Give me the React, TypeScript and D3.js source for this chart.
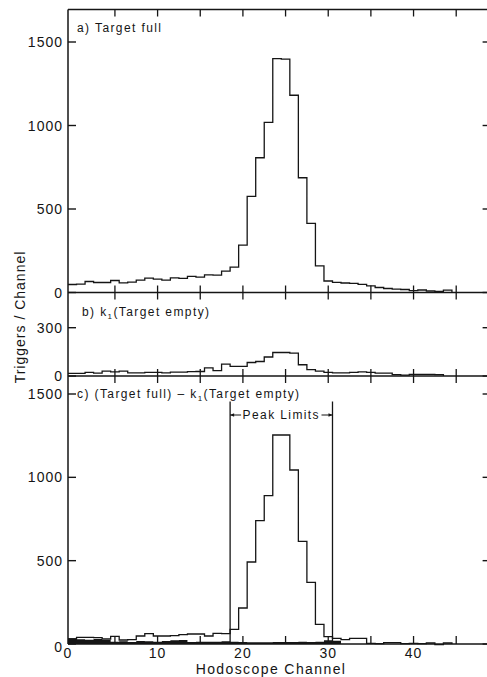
import React from "react";
import * as d3 from "d3";

// Hodoscope channel counts, one value per channel starting at channel 0
const fullCounts = [
  48, 50, 66, 60, 60, 72, 58, 62, 74, 86, 80, 74, 88, 84, 96, 92, 106, 104, 128, 152,
  284, 576, 807, 1019, 1400, 1398, 1181, 687, 414, 159, 69, 61, 57, 55, 49, 40, 30, 24,
  20, 18, 11, 15, 9, 6, 14,
];
const emptyCounts = [
  16, 16, 22, 18, 30, 26, 30, 20, 20, 22, 22, 20, 24, 24, 27, 28, 50, 34, 74, 60, 60, 84,
  90, 118, 146, 146, 142, 70, 40, 30, 22, 20, 20, 22, 26, 22, 18, 18, 8, 6, 10, 10, 10, 9,
];
const diffCounts = [
  30, 40, 40, 38, 30, 46, 24, 26, 48, 62, 48, 48, 50, 56, 60, 60, 48, 64, 62, 88, 216, 492,
  740, 890, 1254, 1254, 1044, 616, 370, 118, 44, 34, 26, 34, 34, 4, 2, 8, 8, 2, 4, 2, 6, -4, 6,
];
const residualCounts = [
  34, 28, 26, 30, 24, 14, 16, 12, 18, 16, 14, 18, 22, 24, 12, 14, 14, 14, 16, 14, 12, 10,
  10, 10, 12, 12, 12, 14, 12, 14, 22, 20,
];
const peakLimits = [18.5, 30.5];

const xMinorTicks = [5, 10, 15, 20, 25, 30, 35, 40, 45];
const xTickLabels = [0, 10, 20, 30, 40];
const yTicksA = [0, 500, 1000, 1500];
const yTicksB = [0, 300];
const yTicksC = [0, 500, 1000, 1500];

const W = 487;
const H = 677;
const FONT = "'Liberation Sans', Arial, sans-serif";
const INK = "#151515";

export default function App() {
  const x = d3.scaleLinear().domain([-0.5, 49.5]).range([68, 494.6]);
  const yA = d3.scaleLinear().domain([0, 1500]).range([292.5, 42]);
  const yB = d3.scaleLinear().domain([0, 300]).range([376, 327.7]);
  const yC = d3.scaleLinear().domain([0, 1500]).range([644, 394]);

  const x0 = x(-0.5);
  const x1 = x(49.5);
  const top = 9.5;

  const stepPath = (vals: number[], y: d3.ScaleLinear<number, number>) => {
    const pts: [number, number][] = vals.map((v, i) => [x(i - 0.5), y(v)]);
    pts.push([x(vals.length - 0.5), y(0)]);
    return d3.line().curve(d3.curveStepAfter)(pts) || "";
  };

  const residualArea = (() => {
    const pts: [number, number][] = residualCounts.map((v, i) => [i - 0.5, v]);
    pts.push([residualCounts.length - 0.5, residualCounts[residualCounts.length - 1]]);
    return (
      d3
        .area<[number, number]>()
        .curve(d3.curveStepAfter)
        .x((d) => x(d[0]))
        .y0(yC(0))
        .y1((d) => yC(d[1]))(pts) || ""
    );
  })();

  const yTickGroup = (ticks: number[], y: d3.ScaleLinear<number, number>, key: string, zeroShift = 0) =>
    ticks.map((t) => (
      <g key={key + t}>
        <line x1={x0} x2={x0 + 8} y1={y(t)} y2={y(t)} stroke={INK} strokeWidth={1.4} />
        <line x1={x1} x2={x1 - 12} y1={y(t)} y2={y(t)} stroke={INK} strokeWidth={1.4} />
        <text
          x={63}
          y={y(t) + (t === 0 ? zeroShift : 0)}
          dy="0.36em"
          textAnchor="end"
          fontSize={14}
          letterSpacing={1}
        >
          {t}
        </text>
      </g>
    ));

  const crossTicks = (yPos: number, key: string) =>
    xMinorTicks.map((t) => (
      <line key={key + t} x1={x(t)} x2={x(t)} y1={yPos - 7} y2={yPos + 7} stroke={INK} strokeWidth={1.3} />
    ));

  const limitY = 415;
  const arrow = (xTip: number, xTail: number, k: string) => {
    const dir = xTip < xTail ? 1 : -1;
    return (
      <g key={k}>
        <line x1={xTip} x2={xTail} y1={limitY} y2={limitY} stroke={INK} strokeWidth={1} />
        <path
          d={`M${xTip},${limitY} L${xTip + dir * 4},${limitY - 1.8} L${xTip + dir * 4},${limitY + 1.8} Z`}
          fill={INK}
        />
      </g>
    );
  };

  return (
    <svg
      width={W}
      height={H}
      viewBox={`0 0 ${W} ${H}`}
      style={{ position: "absolute", left: 0, top: 0, background: "#fff" }}
      fontFamily={FONT}
      fill={INK}
    >
      <rect x={0} y={0} width={W} height={H} fill="#fff" />

      {/* frame and panel separators */}
      <g stroke={INK} strokeWidth={1.5} fill="none">
        <line x1={x0} x2={x0} y1={top} y2={yC(0)} />
        <line x1={x0} x2={x1} y1={top} y2={top} />
        <line x1={x1} x2={x1} y1={top} y2={yC(0)} />
        <line x1={x0} x2={x1} y1={yA(0)} y2={yA(0)} />
        <line x1={x0} x2={x1} y1={yB(0)} y2={yB(0)} />
        <line x1={x0} x2={x1} y1={yC(0)} y2={yC(0)} />
      </g>

      {/* channel ticks */}
      {xMinorTicks.map((t) => (
        <line key={"top" + t} x1={x(t)} x2={x(t)} y1={top} y2={top + 7} stroke={INK} strokeWidth={1.3} />
      ))}
      {crossTicks(yA(0), "a")}
      {crossTicks(yB(0), "b")}
      {xMinorTicks.map((t) => (
        <line key={"c" + t} x1={x(t)} x2={x(t)} y1={yC(0)} y2={yC(0) - 8} stroke={INK} strokeWidth={1.3} />
      ))}

      {/* count axes */}
      {yTickGroup(yTicksA, yA, "ya")}
      {yTickGroup(yTicksB, yB, "yb")}
      {yTickGroup(yTicksC, yC, "yc", 3)}

      {/* histograms */}
      <g fill="none" stroke={INK} strokeWidth={1.3} strokeLinejoin="miter">
        <path d={stepPath(fullCounts, yA)} />
        <path d={stepPath(emptyCounts, yB)} />
        <path d={stepPath(diffCounts, yC)} />
      </g>
      <path d={residualArea} fill={INK} stroke="none" />

      {/* peak limits */}
      {peakLimits.map((p) => (
        <line key={"pl" + p} x1={x(p)} x2={x(p)} y1={401.5} y2={yC(0)} stroke={INK} strokeWidth={1.3} />
      ))}
      {arrow(x(peakLimits[0]), x(peakLimits[0]) + 11, "al")}
      {arrow(x(peakLimits[1]), x(peakLimits[1]) - 11, "ar")}
      <text
        x={(x(peakLimits[0]) + x(peakLimits[1])) / 2}
        y={419}
        textAnchor="middle"
        fontSize={12}
        letterSpacing={1.4}
      >
        Peak Limits
      </text>

      {/* panel titles */}
      <text x={77} y={32} fontSize={12} letterSpacing={1.4}>
        a) Target full
      </text>
      <text x={82} y={316} fontSize={12} letterSpacing={1.4}>
        b) k
        <tspan fontSize={8} dy={3}>
          1
        </tspan>
        <tspan dy={-3}>(Target empty)</tspan>
      </text>
      <text x={77} y={398} fontSize={12} letterSpacing={1.4}>
        c) (Target full) – k
        <tspan fontSize={8} dy={3}>
          1
        </tspan>
        <tspan dy={-3}>(Target empty)</tspan>
      </text>

      {/* channel labels */}
      {xTickLabels.map((t) => (
        <text
          key={"xl" + t}
          x={t === 0 ? x0 : x(t)}
          y={658}
          textAnchor="middle"
          fontSize={14}
          letterSpacing={1}
        >
          {t}
        </text>
      ))}

      {/* axis titles */}
      <text x={271} y={674} textAnchor="middle" fontSize={14} letterSpacing={1.4}>
        Hodoscope Channel
      </text>
      <text
        transform={`translate(25, 317) rotate(-90)`}
        textAnchor="middle"
        fontSize={14}
        letterSpacing={1}
      >
        Triggers / Channel
      </text>
    </svg>
  );
}
